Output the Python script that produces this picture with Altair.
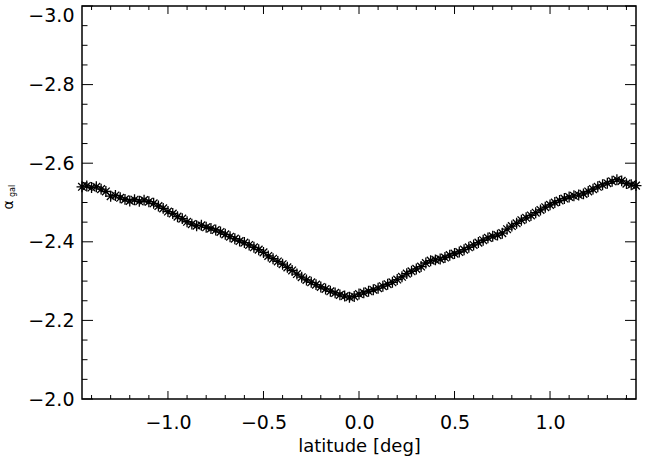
import altair as alt
import pandas as pd

# latitude [deg]
lat = [-1.450, -1.425, -1.400, -1.375, -1.350, -1.325, -1.300, -1.275, -1.250, -1.225,
       -1.200, -1.175, -1.150, -1.125, -1.100, -1.075, -1.050, -1.025, -1.000, -0.975,
       -0.950, -0.925, -0.900, -0.875, -0.850, -0.825, -0.800, -0.775, -0.750, -0.725,
       -0.700, -0.675, -0.650, -0.625, -0.600, -0.575, -0.550, -0.525, -0.500, -0.475,
       -0.450, -0.425, -0.400, -0.375, -0.350, -0.325, -0.300, -0.275, -0.250, -0.225,
       -0.200, -0.175, -0.150, -0.125, -0.100, -0.075, -0.050, -0.025, 0.000, 0.025,
       0.050, 0.075, 0.100, 0.125, 0.150, 0.175, 0.200, 0.225, 0.250, 0.275,
       0.300, 0.325, 0.350, 0.375, 0.400, 0.425, 0.450, 0.475, 0.500, 0.525,
       0.550, 0.575, 0.600, 0.625, 0.650, 0.675, 0.700, 0.725, 0.750, 0.775,
       0.800, 0.825, 0.850, 0.875, 0.900, 0.925, 0.950, 0.975, 1.000, 1.025,
       1.050, 1.075, 1.100, 1.125, 1.150, 1.175, 1.200, 1.225, 1.250, 1.275,
       1.300, 1.325, 1.350, 1.375, 1.400, 1.425, 1.450]

# alpha_gal
alpha = [-2.540, -2.542, -2.538, -2.540, -2.534, -2.528, -2.516, -2.518, -2.512, -2.508,
         -2.504, -2.507, -2.503, -2.506, -2.502, -2.498, -2.491, -2.485, -2.477, -2.472,
         -2.464, -2.459, -2.451, -2.445, -2.441, -2.442, -2.437, -2.434, -2.430, -2.425,
         -2.419, -2.413, -2.408, -2.402, -2.398, -2.392, -2.386, -2.380, -2.373, -2.364,
         -2.357, -2.350, -2.343, -2.335, -2.327, -2.318, -2.310, -2.303, -2.297, -2.291,
         -2.285, -2.280, -2.274, -2.270, -2.265, -2.262, -2.259, -2.261, -2.267, -2.270,
         -2.274, -2.278, -2.282, -2.287, -2.292, -2.297, -2.304, -2.311, -2.319, -2.325,
         -2.331, -2.337, -2.346, -2.352, -2.354, -2.356, -2.360, -2.366, -2.370, -2.374,
         -2.380, -2.386, -2.392, -2.398, -2.404, -2.410, -2.414, -2.417, -2.422, -2.432,
         -2.440, -2.447, -2.455, -2.461, -2.467, -2.474, -2.481, -2.488, -2.494, -2.500,
         -2.505, -2.510, -2.514, -2.517, -2.519, -2.522, -2.528, -2.534, -2.540, -2.545,
         -2.549, -2.554, -2.558, -2.555, -2.548, -2.545, -2.543]

x_major = [-1.0, -0.5, 0.0, 0.5, 1.0]
x_minor = [-1.4, -1.3, -1.2, -1.1, -0.9, -0.8, -0.7, -0.6, -0.4, -0.3, -0.2, -0.1,
           0.1, 0.2, 0.3, 0.4, 0.6, 0.7, 0.8, 0.9, 1.1, 1.2, 1.3, 1.4]
y_major = [-3.0, -2.8, -2.6, -2.4, -2.2, -2.0]
y_minor = [-2.95, -2.9, -2.85, -2.75, -2.7, -2.65, -2.55, -2.5, -2.45,
           -2.35, -2.3, -2.25, -2.15, -2.1, -2.05]

W, H = 554, 393
FONT = "DejaVu Sans"

df = pd.DataFrame({"lat": lat, "alpha": alpha})

xscale = alt.Scale(domain=[-1.45, 1.45], nice=False, zero=False)
yscale = alt.Scale(domain=[-3.0, -2.0], nice=False, zero=False, reverse=True)

minus_expr = "replace(format(datum.value, '.1f'), '-', '\u2212')"

star = "M-1,0L1,0M0,-1L0,1M-0.7,-0.7L0.7,0.7M-0.7,0.7L0.7,-0.7"

points = alt.Chart(df).mark_point(
    shape=star, filled=False, stroke="black", strokeWidth=1.3, size=120, opacity=1
).encode(
    x=alt.X("lat:Q", scale=xscale, title="latitude [deg]",
            axis=alt.Axis(values=x_major, labelExpr=minus_expr, ticks=False, domain=False,
                          grid=False, labelFont=FONT, labelFontSize=19, labelColor="black",
                          labelPadding=14, titleFont=FONT, titleFontSize=18,
                          titleFontWeight="normal", titleColor="black", titlePadding=5)),
    y=alt.Y("alpha:Q", scale=yscale, title=None,
            axis=alt.Axis(values=y_major, labelExpr=minus_expr, ticks=False, domain=False,
                          grid=False, labelFont=FONT, labelFontSize=19, labelColor="black",
                          labelPadding=8,
                          labelBaseline={"condition": {"test": "datum.value <= -2.99", "value": "top"},
                                         "value": "middle"})),
)

xmaj = pd.DataFrame({"lat": x_major})
xmin = pd.DataFrame({"lat": x_minor})
ymaj = pd.DataFrame({"alpha": y_major})
ymin = pd.DataFrame({"alpha": y_minor})

def xticks(d, length):
    base = alt.Chart(d).mark_rule(color="black", strokeWidth=1)
    bottom = base.encode(x=alt.X("lat:Q", scale=xscale), y=alt.value(H), y2=alt.value(H - length))
    top = base.encode(x=alt.X("lat:Q", scale=xscale), y=alt.value(0), y2=alt.value(length))
    return bottom + top

def yticks(d, length):
    base = alt.Chart(d).mark_rule(color="black", strokeWidth=1)
    left = base.encode(y=alt.Y("alpha:Q", scale=yscale), x=alt.value(0), x2=alt.value(length))
    right = base.encode(y=alt.Y("alpha:Q", scale=yscale), x=alt.value(W), x2=alt.value(W - length))
    return left + right

label_a = alt.Chart(pd.DataFrame({"t": ["α"]})).mark_text(
    angle=270, font=FONT, fontSize=14, color="black", align="center", baseline="middle"
).encode(text="t:N", x=alt.value(-73), y=alt.value(199))
label_g = alt.Chart(pd.DataFrame({"t": ["gal"]})).mark_text(
    angle=270, font=FONT, fontSize=8, color="black", align="center", baseline="middle"
).encode(text="t:N", x=alt.value(-69), y=alt.value(185))

chart = alt.layer(
    points,
    xticks(xmaj, 8), xticks(xmin, 4),
    yticks(ymaj, 11), yticks(ymin, 5.5),
    label_a, label_g,
).properties(
    width=W, height=H,
    autosize=alt.AutoSizeParams(type="none"),
    padding={"left": 82, "top": 6, "right": 12, "bottom": 59},
    background="white",
).configure_view(stroke="black", strokeWidth=1.5)

chart.save("out.html", embed_options={"renderer": "svg", "actions": False})
